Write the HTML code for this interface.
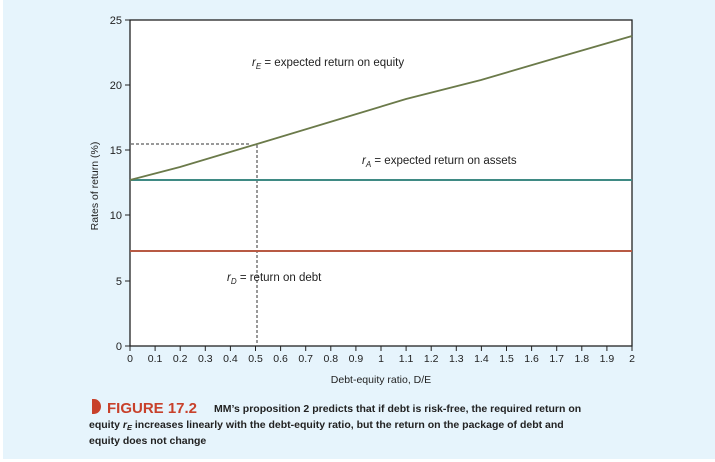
<!DOCTYPE html>
<html><head><meta charset="utf-8"><style>
body{margin:0;background:#fff;}
svg{display:block;font-family:"Liberation Sans",sans-serif;}
</style></head><body>
<svg width="715" height="462" viewBox="0 0 715 462" xmlns="http://www.w3.org/2000/svg">
<rect x="3" y="0" width="712" height="459" fill="#e6f4fc"/>
<rect x="130" y="20" width="502" height="326" fill="#fff" stroke="#222" stroke-width="1.3"/>
<g stroke="#222" stroke-width="1">
<line x1="125" y1="20" x2="130" y2="20"/><line x1="125" y1="85" x2="130" y2="85"/><line x1="125" y1="150" x2="130" y2="150"/><line x1="125" y1="215" x2="130" y2="215"/><line x1="125" y1="281" x2="130" y2="281"/><line x1="125" y1="346" x2="130" y2="346"/>
</g>
<g font-size="11" fill="#222" text-anchor="end">
<text x="122" y="24">25</text><text x="122" y="89">20</text><text x="122" y="154">15</text><text x="122" y="219">10</text><text x="122" y="285">5</text><text x="122" y="350">0</text>
</g>
<g stroke="#222" stroke-width="1">
<line x1="130" y1="346" x2="130" y2="351"/><line x1="155.1" y1="346" x2="155.1" y2="351"/><line x1="180.2" y1="346" x2="180.2" y2="351"/><line x1="205.3" y1="346" x2="205.3" y2="351"/><line x1="230.4" y1="346" x2="230.4" y2="351"/><line x1="255.5" y1="346" x2="255.5" y2="351"/><line x1="280.6" y1="346" x2="280.6" y2="351"/><line x1="305.7" y1="346" x2="305.7" y2="351"/><line x1="330.8" y1="346" x2="330.8" y2="351"/><line x1="355.9" y1="346" x2="355.9" y2="351"/><line x1="381" y1="346" x2="381" y2="351"/><line x1="406.1" y1="346" x2="406.1" y2="351"/><line x1="431.2" y1="346" x2="431.2" y2="351"/><line x1="456.3" y1="346" x2="456.3" y2="351"/><line x1="481.4" y1="346" x2="481.4" y2="351"/><line x1="506.5" y1="346" x2="506.5" y2="351"/><line x1="531.6" y1="346" x2="531.6" y2="351"/><line x1="556.7" y1="346" x2="556.7" y2="351"/><line x1="581.8" y1="346" x2="581.8" y2="351"/><line x1="606.9" y1="346" x2="606.9" y2="351"/><line x1="632" y1="346" x2="632" y2="351"/>
</g>
<g font-size="10.5" fill="#222" text-anchor="middle">
<text x="130" y="362">0</text><text x="155.1" y="362">0.1</text><text x="180.2" y="362">0.2</text><text x="205.3" y="362">0.3</text><text x="230.4" y="362">0.4</text><text x="255.5" y="362">0.5</text><text x="280.6" y="362">0.6</text><text x="305.7" y="362">0.7</text><text x="330.8" y="362">0.8</text><text x="355.9" y="362">0.9</text><text x="381" y="362">1</text><text x="406.1" y="362">1.1</text><text x="431.2" y="362">1.2</text><text x="456.3" y="362">1.3</text><text x="481.4" y="362">1.4</text><text x="506.5" y="362">1.5</text><text x="531.6" y="362">1.6</text><text x="556.7" y="362">1.7</text><text x="581.8" y="362">1.8</text><text x="606.9" y="362">1.9</text><text x="632" y="362">2</text>
</g>
<text x="381" y="383" font-size="10.5" fill="#222" text-anchor="middle">Debt-equity ratio, D/E</text>
<text transform="translate(98,186) rotate(-90)" font-size="10.5" fill="#222" text-anchor="middle">Rates of return (%)</text>
<line x1="131" y1="144" x2="250" y2="144" stroke="#333" stroke-width="1" stroke-dasharray="3,2"/>
<line x1="257" y1="145" x2="257" y2="345" stroke="#333" stroke-width="1" stroke-dasharray="3,2"/>
<line x1="130" y1="251" x2="632" y2="251" stroke="#b85a44" stroke-width="2"/>
<line x1="130" y1="180" x2="632" y2="180" stroke="#3f8a84" stroke-width="2"/>
<polyline points="130,180 180,167 257,144 330,122 406,99 481,80 556,58 632,36" fill="none" stroke="#6b7a4a" stroke-width="1.8"/>
<g font-size="11.5" fill="#222">
<text x="252" y="66"><tspan font-style="italic">r</tspan><tspan font-style="italic" font-size="8" dy="3">E</tspan><tspan dy="-3"> = expected return on equity</tspan></text>
<text x="362" y="164"><tspan font-style="italic">r</tspan><tspan font-style="italic" font-size="8" dy="3">A</tspan><tspan dy="-3"> = expected return on assets</tspan></text>
<text x="227" y="281"><tspan font-style="italic">r</tspan><tspan font-style="italic" font-size="8" dy="3">D</tspan><tspan dy="-3"> = return on debt</tspan></text>
</g>
<path d="M92,399 L94,399 A7,7.5 0 0 1 94,414 L92,414 Z" fill="#c8412b"/>
<text x="107" y="413" font-size="15" fill="#c8412b" font-weight="bold">FIGURE 17.2</text>
<g font-size="10.5" font-weight="bold" fill="#222">
<text x="214" y="412">MM’s proposition 2 predicts that if debt is risk-free, the required return on</text>
<text x="89" y="428">equity <tspan font-style="italic">r</tspan><tspan font-style="italic" font-size="7.5" dy="2">E</tspan><tspan dy="-2"> increases linearly with the debt-equity ratio, but the return on the package of debt and</tspan></text>
<text x="89" y="444">equity does not change</text>
</g>
</svg>
</body></html>
